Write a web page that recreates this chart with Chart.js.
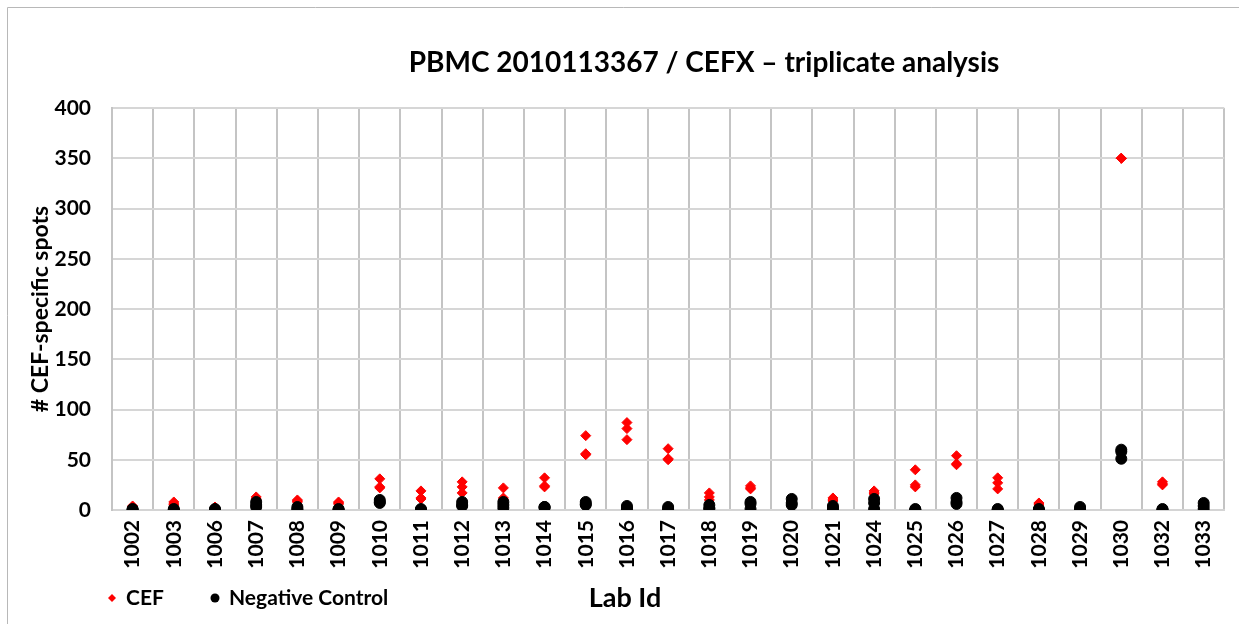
<!DOCTYPE html>
<html>
<head>
<meta charset="utf-8">
<script src="https://cdn.jsdelivr.net/npm/chart.js@4.4.1/dist/chart.umd.min.js"></script>
<style>
  body { margin: 0; background: #ffffff; }
  #wrap { width: 1239px; height: 624px; }
</style>
</head>
<body>
<div id="wrap"><canvas id="spotsChart"></canvas></div>
<script>
const labIds = ["1002", "1003", "1006", "1007", "1008", "1009", "1010", "1011", "1012",
  "1013", "1014", "1015", "1016", "1017", "1018", "1019", "1020", "1021", "1024",
  "1025", "1026", "1027", "1028", "1029", "1030", "1032", "1033"];

// triplicate wells per lab
const cefSpots = [
  [4, 3, 2], [8, 6, 5], [3, 2, 1], [13, 11, 10], [10, 9, 8], [8, 7, 6],
  [31, 23, 22], [19, 12, 11], [28, 23, 17], [22, 12, 10], [32, 24, 23],
  [74, 56, 55], [87, 81, 70], [61, 51, 50], [17, 13, 10], [24, 22, 21],
  [8, 6, 5], [12, 10, 9], [19, 17, 16], [40, 25, 23], [54, 46, 45],
  [32, 27, 21], [7, 6, 5], [2, 1, 0], [350, 350, 350], [28, 26, 25], [4, 3, 2]
];
const negSpots = [
  [1, 0, 0], [1, 0, 0], [1, 0, 0], [8, 5, 3], [3, 1, 0], [1, 0, 0],
  [10, 8, 7], [1, 0, 0], [8, 5, 4], [8, 5, 2], [3, 3, 2],
  [8, 6, 5], [4, 2, 1], [3, 1, 0], [5, 2, 1], [8, 6, 1],
  [11, 7, 5], [4, 2, 1], [11, 7, 1], [1, 0, 0], [12, 8, 6],
  [1, 0, 0], [1, 0, 0], [3, 1, 0], [60, 58, 51], [1, 0, 0], [7, 4, 1]
];
const yMin = 0;
const yMax = 400;
const yStep = 50;

const chartTitle = "PBMC 2010113367 / CEFX \u2013 triplicate analysis";
const fontFamily = "Lato, 'Open Sans', sans-serif";

function toPoints(values) {
  let points = [];
  labIds.forEach(function (id, i) {
    values[i].forEach(function (v) {
      points.push({ x: id, y: v });
    });
  });
  return points;
}

// title, legend, axis name and frame drawn straight on the canvas
const extrasPlugin = {
  id: "extras",
  afterDraw(chart) {
    let ctx = chart.ctx;
    ctx.save();

    ctx.strokeStyle = "#b8b8b8";
    ctx.lineWidth = 1;
    ctx.beginPath();
    ctx.moveTo(7.5, 624);
    ctx.lineTo(7.5, 7.5);
    ctx.lineTo(1239, 7.5);
    ctx.stroke();

    ctx.fillStyle = "#000000";
    ctx.textBaseline = "middle";
    ctx.textAlign = "center";
    ctx.font = "bold 28px " + fontFamily;
    ctx.fillText(chartTitle, 704, 63);

    ctx.font = "bold 27px " + fontFamily;
    ctx.fillText("Lab Id", 625, 598);

    // legend
    ctx.textAlign = "left";
    ctx.font = "bold 21px " + fontFamily;
    ctx.fillStyle = "#ff0000";
    ctx.beginPath();
    ctx.moveTo(112, 594);
    ctx.lineTo(116, 598);
    ctx.lineTo(112, 602);
    ctx.lineTo(108, 598);
    ctx.closePath();
    ctx.fill();
    ctx.fillStyle = "#000000";
    ctx.fillText("CEF", 126, 598);

    ctx.beginPath();
    ctx.arc(215, 598, 4.5, 0, Math.PI * 2);
    ctx.fill();
    ctx.fillText("Negative Control", 229, 598);

    ctx.restore();
  },
};

let ctx = document.getElementById("spotsChart");
new Chart(ctx, {
  type: "line",
  data: {
    labels: labIds,
    datasets: [
      {
        label: "CEF",
        data: toPoints(cefSpots),
        showLine: false,
        pointStyle: "rectRot",
        pointRadius: 5,
        pointBackgroundColor: "#ff0000",
        pointBorderColor: "#ff0000",
        pointBorderWidth: 1,
        order: 2,
      },
      {
        label: "Negative Control",
        data: toPoints(negSpots),
        showLine: false,
        pointStyle: "circle",
        pointRadius: 5.5,
        pointBackgroundColor: "#000000",
        pointBorderColor: "#000000",
        pointBorderWidth: 1,
        order: 1,
      },
    ],
  },
  options: {
    responsive: true,
    maintainAspectRatio: false,
    animation: false,
    layout: {
      padding: { left: 0, right: 6, top: 108, bottom: 44 },
    },
    scales: {
      x: {
        type: "category",
        offset: true,
        grid: {
          offset: true,
          color: "#c4c4c4",
          lineWidth: 2,
          drawTicks: false,
        },
        border: { color: "#d4d4d4", width: 2 },
        ticks: {
          minRotation: 90,
          maxRotation: 90,
          autoSkip: false,
          padding: 10,
          color: "#000000",
          font: { family: fontFamily, size: 21, weight: "bold" },
        },
        afterFit(scale) {
          scale.height = 70;
        },
      },
      y: {
        min: yMin,
        max: yMax,
        grid: {
          color: "#d6d6d6",
          lineWidth: 2,
          drawTicks: false,
        },
        border: { color: "#c4c4c4", width: 2 },
        ticks: {
          stepSize: yStep,
          padding: 21,
          color: "#000000",
          font: { family: fontFamily, size: 21, weight: "bold" },
        },
        title: {
          display: true,
          text: "# CEF-specific spots",
          color: "#000000",
          padding: { top: 27, bottom: 0 },
          font: { family: fontFamily, size: 23, weight: "bold" },
        },
        afterFit(scale) {
          scale.width = 112;
        },
      },
    },
    plugins: {
      legend: { display: false },
      title: { display: false },
      tooltip: { enabled: false },
    },
  },
  plugins: [extrasPlugin],
});
</script>
</body>
</html>
